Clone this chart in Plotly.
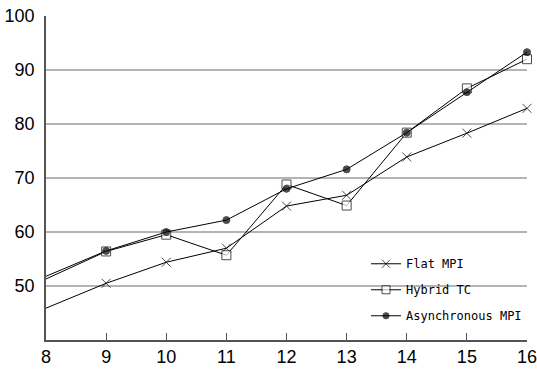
import plotly.graph_objects as go

x_vals = [8, 9, 10, 11, 12, 13, 14, 15, 16]
flat_mpi = [45.9, 50.5, 54.4, 57.0, 64.8, 66.8, 73.9, 78.3, 82.9]
hybrid_tc = [51.3, 56.4, 59.5, 55.7, 68.8, 64.9, 78.4, 86.6, 92.0]
async_mpi = [51.8, 56.5, 60.0, 62.2, 68.0, 71.6, 78.4, 85.9, 93.3]
y_ticks = [50, 60, 70, 80, 90, 100]
x_ticks = [8, 9, 10, 11, 12, 13, 14, 15, 16]

def sizes(n, s):
    return [0] + [s] * (n - 1)

fig = go.Figure()
series = [
    ("Flat MPI", flat_mpi, "x-thin", 9, "black"),
    ("Hybrid TC", hybrid_tc, "square", 9, "white"),
    ("Asynchronous MPI", async_mpi, "circle", 7, "black"),
]
for i, (name, vals, sym, sz, fill) in enumerate(series):
    fig.add_trace(go.Scatter(
        x=x_vals, y=vals, name=name, mode="lines+markers",
        line=dict(color="black", width=1),
        marker=dict(symbol=sym, size=sizes(len(vals), sz), color=fill,
                    line=dict(color="black", width=1)),
        legendgroup=f"g{i}", cliponaxis=False,
    ))

fig.update_layout(
    width=537, height=373,
    margin=dict(l=46, r=10, t=16, b=33),
    paper_bgcolor="white", plot_bgcolor="white",
    font=dict(family="Liberation Sans, Arial, sans-serif", color="black"),
    showlegend=True,
    legend=dict(x=1.0, xanchor="right", y=0.03, yanchor="bottom",
                bgcolor="rgba(0,0,0,0)", itemwidth=30, tracegroupgap=7,
                font=dict(family="DejaVu Sans Mono, monospace", size=12)),
    xaxis=dict(range=[8, 16], tickvals=x_ticks, ticks="inside", ticklen=7,
               tickcolor="#555", showline=True, linecolor="#555", linewidth=1.5,
               showgrid=False, zeroline=False, tickfont=dict(size=18),
               ticklabeloverflow="allow", automargin=False),
    yaxis=dict(range=[40, 100], tickvals=y_ticks, ticks="", showline=True,
               linecolor="#555", linewidth=1.5, showgrid=False, zeroline=False,
               tickfont=dict(size=18), ticklabelstandoff=6, automargin=False,
               ticklabeloverflow="allow",
               minor=dict(tickvals=[50, 60, 70, 80, 90], showgrid=True,
                          gridcolor="#b4b4b4", gridwidth=1.5, ticks="")),
)

fig.write_html("out.html", config={"displayModeBar": False},
               post_script="document.body.style.margin='0';")
